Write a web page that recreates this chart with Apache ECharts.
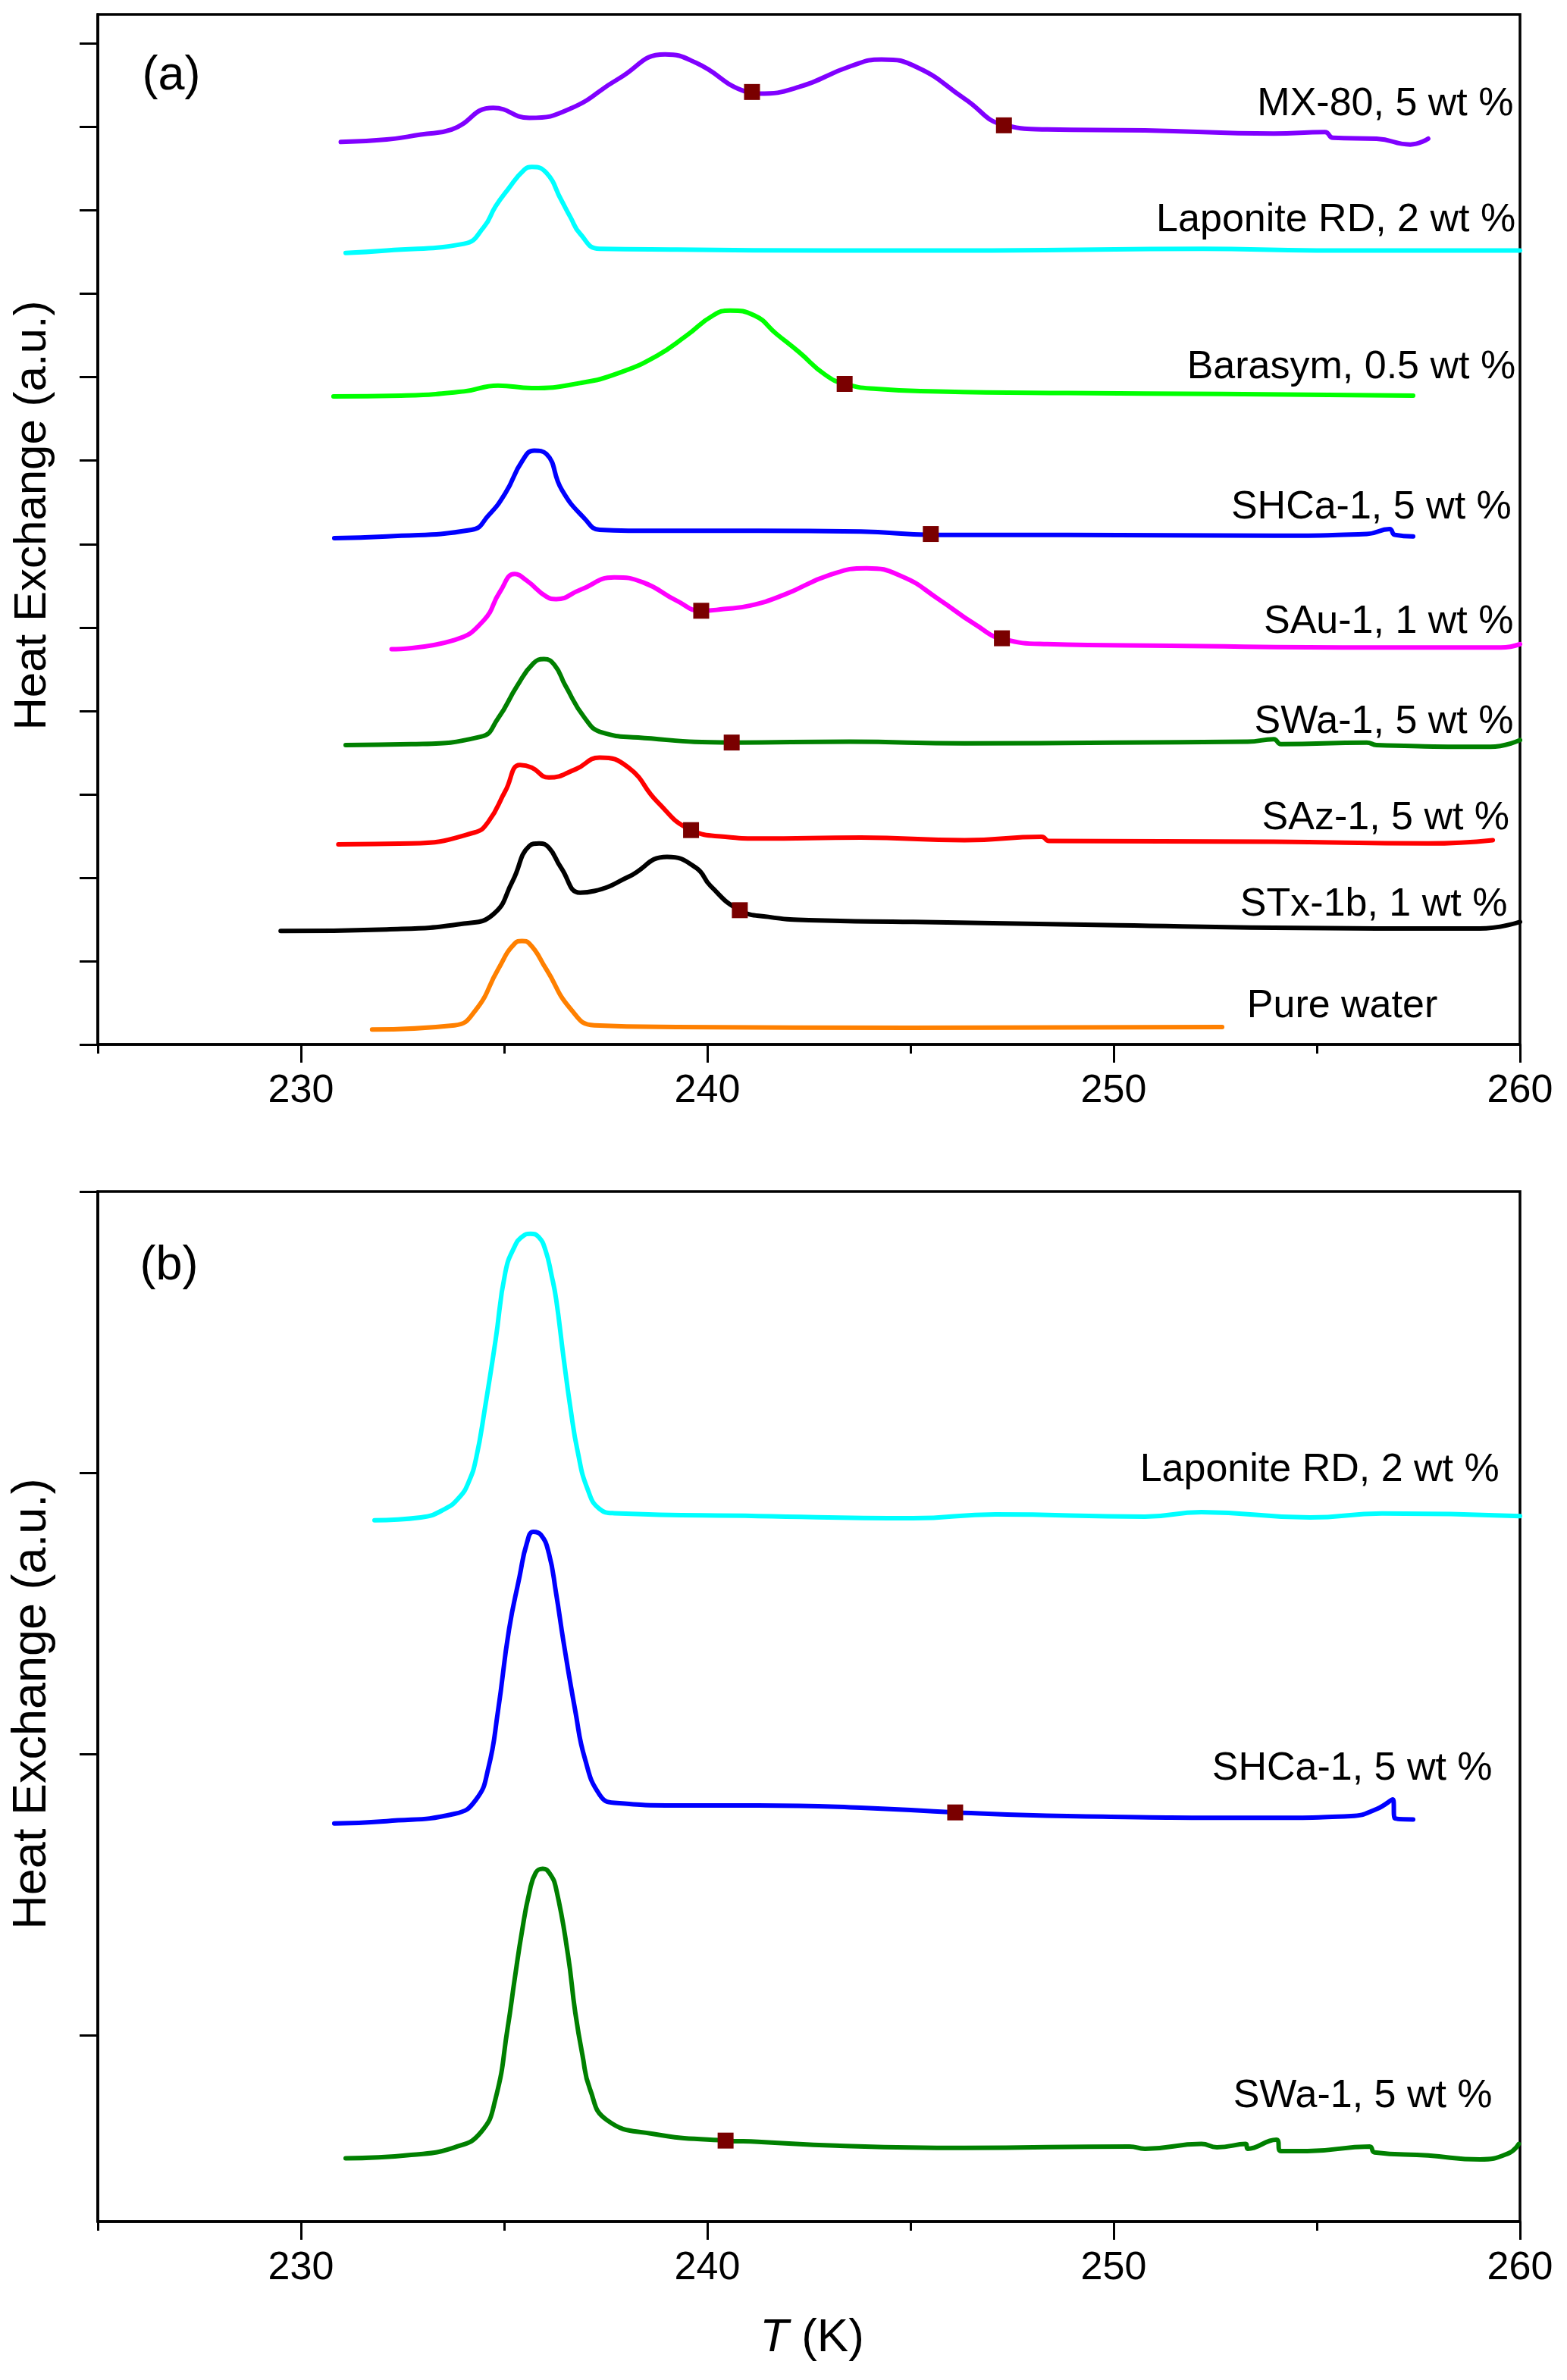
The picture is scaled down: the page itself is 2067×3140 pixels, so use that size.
<!DOCTYPE html>
<html>
<head>
<meta charset="utf-8">
<script src="https://cdn.jsdelivr.net/npm/echarts@6/dist/echarts.min.js"></script>
<style>
  html, body { margin: 0; padding: 0; background: #fff; }
  #chart { width: 2067px; height: 3140px; }
</style>
</head>
<body>
<div id="chart"></div>
<script>
// Panel (a): [T (K), offset heat exchange]
const mx80A = [[230.98,10.82],[232.11,10.85],[232.95,10.91],[233.71,10.97],[234.73,11.23],[235.62,11.11],[236.63,11.22],[237.82,11.58],[238.96,11.87],[239.72,11.77],[240.97,11.42],[241.25,11.40],[242.26,11.48],[243.53,11.73],[244.29,11.81],[245.19,11.71],[246.33,11.34],[247.34,11.02],[248.36,10.97],[250.77,10.96],[253.94,10.92],[255.2,10.94],[255.4,10.87],[256.47,10.86],[257.3,10.79],[257.74,10.86]];
const laponiteA = [[231.1,9.49],[232.11,9.52],[234.01,9.60],[234.5,9.80],[234.79,10.05],[235.09,10.25],[235.5,10.49],[235.68,10.52],[236.04,10.45],[236.4,10.13],[236.63,9.92],[236.87,9.72],[237.35,9.54],[239.25,9.53],[243.0,9.52],[247.0,9.52],[252.2,9.54],[255.0,9.52],[260,9.52]];
const barasymA = [[230.8,7.77],[232.46,7.78],[234.01,7.83],[234.85,7.90],[235.68,7.87],[236.87,7.93],[237.82,8.05],[238.77,8.26],[239.49,8.50],[240.14,8.74],[240.56,8.80],[241.16,8.74],[241.7,8.52],[242.26,8.30],[242.9,8.03],[243.38,7.92],[244.16,7.86],[245.7,7.83],[248.86,7.81],[252.67,7.80],[257.37,7.78]];
const shcaA = [[230.82,6.07],[232.11,6.09],[234.2,6.17],[234.61,6.34],[235.03,6.61],[235.45,7.0],[235.74,7.12],[236.04,7.08],[236.42,6.65],[236.99,6.30],[237.35,6.17],[238.06,6.16],[241.25,6.16],[243.78,6.15],[245.54,6.11],[248.86,6.11],[253.94,6.10],[256.23,6.12],[256.79,6.18],[256.92,6.11],[257.37,6.09]];
const sauA = [[232.23,4.74],[233.78,4.85],[234.49,5.08],[234.9,5.43],[235.26,5.64],[235.56,5.56],[236.04,5.37],[236.28,5.34],[236.87,5.45],[237.71,5.60],[238.42,5.54],[239.25,5.32],[239.85,5.20],[240.4,5.22],[241.04,5.26],[241.88,5.39],[243.02,5.63],[243.92,5.71],[244.8,5.61],[245.69,5.34],[246.58,5.04],[247.28,4.86],[248.36,4.80],[251.4,4.78],[256.47,4.76],[259.53,4.76],[260,4.80]];
const swaA = [[231.1,3.59],[232.71,3.60],[234.43,3.69],[234.85,3.91],[235.32,4.30],[235.72,4.57],[235.98,4.62],[236.24,4.55],[236.51,4.30],[236.99,3.91],[237.41,3.74],[238.3,3.68],[240.62,3.62],[243.5,3.63],[246.33,3.61],[250.0,3.62],[253.3,3.63],[253.94,3.66],[254.12,3.60],[256.23,3.62],[256.47,3.59],[259.27,3.57],[260,3.65]];
const sazA = [[230.92,2.40],[232.71,2.41],[234.26,2.54],[234.61,2.67],[235.03,3.04],[235.39,3.35],[235.68,3.32],[236.1,3.20],[236.76,3.30],[237.35,3.44],[238.06,3.32],[238.77,2.91],[239.61,2.57],[240.44,2.49],[241.25,2.47],[243.78,2.48],[246.33,2.45],[248.23,2.49],[248.41,2.44],[253.94,2.43],[257.74,2.41],[259.33,2.45]];
const stxA = [[229.5,1.36],[232.11,1.38],[234.01,1.45],[234.73,1.56],[235.2,1.95],[235.62,2.38],[235.86,2.41],[236.1,2.36],[236.4,2.12],[236.87,1.82],[237.22,1.84],[238.06,2.01],[239.01,2.25],[239.72,2.12],[240.08,1.90],[240.8,1.61],[241.5,1.53],[242.5,1.49],[245.06,1.47],[250.13,1.43],[253.94,1.40],[259.01,1.39],[260,1.47]];
const waterA = [[231.75,0.18],[233.78,0.23],[234.31,0.42],[234.85,0.90],[235.26,1.21],[235.44,1.24],[235.62,1.21],[236.04,0.90],[236.63,0.43],[237.22,0.23],[239.25,0.21],[245,0.20],[252.67,0.21]];

// Panel (b)
const laponiteB = [[231.81,2.831],[232.95,2.841],[233.54,2.871],[233.9,2.913],[234.13,2.968],[234.31,3.051],[234.53,3.232],[234.79,3.472],[235.03,3.713],[235.26,3.805],[235.45,3.840],[235.65,3.850],[235.85,3.838],[236.02,3.790],[236.17,3.700],[236.28,3.617],[236.46,3.412],[236.63,3.232],[236.81,3.075],[237.05,2.943],[237.35,2.871],[237.71,2.856],[241.25,2.846],[245.06,2.838],[247.09,2.852],[250.77,2.844],[252.16,2.860],[254.83,2.841],[256.6,2.855],[260,2.846]];
const shcaB = [[230.82,1.753],[232.11,1.761],[233.78,1.787],[234.31,1.838],[234.61,1.949],[234.85,2.154],[235.12,2.442],[235.38,2.631],[235.56,2.75],[235.72,2.790],[235.9,2.780],[236.1,2.714],[236.28,2.57],[236.46,2.4],[236.75,2.154],[236.99,1.982],[237.35,1.855],[237.71,1.826],[239.25,1.817],[241.25,1.817],[243.78,1.809],[246.13,1.792],[248.86,1.779],[253.94,1.773],[255.84,1.779],[256.47,1.804],[256.87,1.838],[256.92,1.771],[257.37,1.767]];
const swaB = [[231.1,0.562],[232.71,0.574],[233.78,0.601],[234.43,0.655],[234.79,0.775],[235.09,1.029],[235.26,1.2],[235.44,1.37],[235.62,1.507],[235.78,1.578],[235.95,1.592],[236.12,1.575],[236.28,1.52],[236.57,1.286],[236.75,1.081],[236.93,0.927],[237.11,0.809],[237.53,0.698],[238.66,0.649],[240.44,0.625],[241.25,0.621],[243.15,0.607],[246.33,0.599],[250.39,0.604],[250.77,0.596],[252.16,0.613],[252.54,0.601],[253.25,0.613],[253.3,0.596],[254.0,0.628],[254.12,0.588],[254.77,0.588],[256.3,0.604],[256.42,0.583],[257.74,0.572],[259.01,0.558],[259.72,0.580],[259.97,0.613]];

// onset / end markers
const markersA = [[241.1,11.42],[247.3,11.02],[243.38,7.92],[245.5,6.12],[239.85,5.20],[247.25,4.87],[240.6,3.62],[239.6,2.57],[240.8,1.61]];
const markersB = [[246.1,1.792],[240.45,0.625]];

// curve names and where their right-aligned labels sit
const namesA = ['MX-80, 5 wt %','Laponite RD, 2 wt %','Barasym, 0.5 wt %','SHCa-1, 5 wt %','SAu-1, 1 wt %','SWa-1, 5 wt %','SAz-1, 5 wt %','STx-1b, 1 wt %','Pure water'];
const labelAtA = [[259.85,11.31],[259.9,9.92],[259.9,8.16],[259.8,6.48],[259.85,5.11],[259.85,3.91],[259.75,2.75],[259.7,1.72],[257.98,0.50]];
const namesB = ['Laponite RD, 2 wt %','SHCa-1, 5 wt %','SWa-1, 5 wt %'];
const labelAtB = [[259.5,3.019],[259.33,1.957],[259.33,0.792]];

const majorTicks = [230, 240, 250, 260];
const minorTicks = [225, 235, 245, 255];
const yTicksA = [0,1,2,3,4,5,6,7,8,9,10,11,12];
const yTicksB = [1, 2, 3, 4];

const FONT = "'Liberation Sans', Arial, Helvetica, sans-serif";
const BLACK = { color: '#000', width: 3.5 };

const chart = echarts.init(document.getElementById('chart'));

function xAxes(gridIndex) {
  return [
    {
      type: 'value', gridIndex, min: 225, max: 260, position: 'bottom',
      axisLine: { show: true, onZero: false, lineStyle: BLACK },
      axisTick: { show: true, customValues: majorTicks, length: 24, lineStyle: { color: '#000', width: 3 } },
      axisLabel: { show: true, customValues: majorTicks, margin: 36, fontSize: 52, color: '#000', fontFamily: FONT },
      splitLine: { show: false }
    },
    {
      type: 'value', gridIndex, min: 225, max: 260, position: 'bottom',
      axisLine: { show: false },
      axisTick: { show: true, customValues: minorTicks, length: 12, lineStyle: { color: '#000', width: 3 } },
      axisLabel: { show: false },
      splitLine: { show: false }
    }
  ];
}

function yAxis(gridIndex, min, max, ticks) {
  return {
    type: 'value', gridIndex, min, max, position: 'left',
    axisLine: { show: true, onZero: false, lineStyle: BLACK },
    axisTick: { show: true, customValues: ticks, length: 24, lineStyle: { color: '#000', width: 3 } },
    axisLabel: { show: false },
    splitLine: { show: false }
  };
}

function curve(data, color, xi, yi) {
  return {
    type: 'line', data, xAxisIndex: xi, yAxisIndex: yi,
    showSymbol: false, smooth: 0.5, silent: true,
    lineStyle: { color, width: 6, cap: 'round', join: 'round' }
  };
}

function markers(data, xi, yi) {
  return {
    type: 'scatter', data, xAxisIndex: xi, yAxisIndex: yi,
    symbol: 'rect', symbolSize: 21, silent: true, z: 4,
    itemStyle: { color: '#7A0000', opacity: 1 }
  };
}

function labels(names, at, xi, yi, dy) {
  return {
    type: 'scatter', xAxisIndex: xi, yAxisIndex: yi, silent: true, z: 5,
    symbolSize: 1, itemStyle: { color: 'rgba(0,0,0,0)' },
    data: names.map((n, i) => ({ name: n, value: at[i] })),
    label: {
      show: true, formatter: '{b}', position: [0, 0], offset: [0, dy],
      align: 'right', verticalAlign: 'middle',
      fontSize: 52, color: '#000', fontFamily: FONT, opacity: 1
    }
  };
}

const frame = { show: true, borderColor: '#000', borderWidth: 3.5, backgroundColor: 'transparent' };

chart.setOption({
  animation: false,
  backgroundColor: '#fff',
  grid: [
    Object.assign({ left: 129, top: 19, width: 1876, height: 1359 }, frame),
    Object.assign({ left: 129, top: 1572, width: 1876, height: 1359 }, frame)
  ],
  xAxis: [...xAxes(0), ...xAxes(1)],
  yAxis: [yAxis(0, 0, 12.35, yTicksA), yAxis(1, 0.337, 4, yTicksB)],
  series: [
    curve(mx80A, '#8000FF', 0, 0),
    curve(laponiteA, '#00FFFF', 0, 0),
    curve(barasymA, '#00FF00', 0, 0),
    curve(shcaA, '#0000FF', 0, 0),
    curve(sauA, '#FF00FF', 0, 0),
    curve(swaA, '#008000', 0, 0),
    curve(sazA, '#FF0000', 0, 0),
    curve(stxA, '#000000', 0, 0),
    curve(waterA, '#FF8000', 0, 0),
    markers(markersA, 0, 0),
    labels(namesA, labelAtA, 0, 0, 5),
    curve(laponiteB, '#00FFFF', 2, 1),
    curve(shcaB, '#0000FF', 2, 1),
    curve(swaB, '#008000', 2, 1),
    markers(markersB, 2, 1),
    labels(namesB, labelAtB, 2, 1, 4)
  ],
  graphic: [
    { type: 'text', x: 226, y: 101, style: { text: '(a)', fontSize: 63, fontFamily: FONT, fill: '#000', align: 'center', verticalAlign: 'middle' } },
    { type: 'text', x: 223, y: 1671, style: { text: '(b)', fontSize: 63, fontFamily: FONT, fill: '#000', align: 'center', verticalAlign: 'middle' } },
    { type: 'text', x: 43, y: 680, rotation: Math.PI / 2, style: { text: 'Heat Exchange (a.u.)', fontSize: 60, fontFamily: FONT, fill: '#000', align: 'center', verticalAlign: 'middle' } },
    { type: 'text', x: 43, y: 2248, rotation: Math.PI / 2, style: { text: 'Heat Exchange (a.u.)', fontSize: 63, fontFamily: FONT, fill: '#000', align: 'center', verticalAlign: 'middle' } },
    { type: 'text', x: 1071, y: 3085, style: {
        text: '{i|T} (K)', fontSize: 62, fontFamily: FONT, fill: '#000', align: 'center', verticalAlign: 'middle',
        rich: { i: { fontStyle: 'italic', fontSize: 62, fontFamily: FONT, fill: '#000' } }
      } }
  ]
});
</script>
</body>
</html>
